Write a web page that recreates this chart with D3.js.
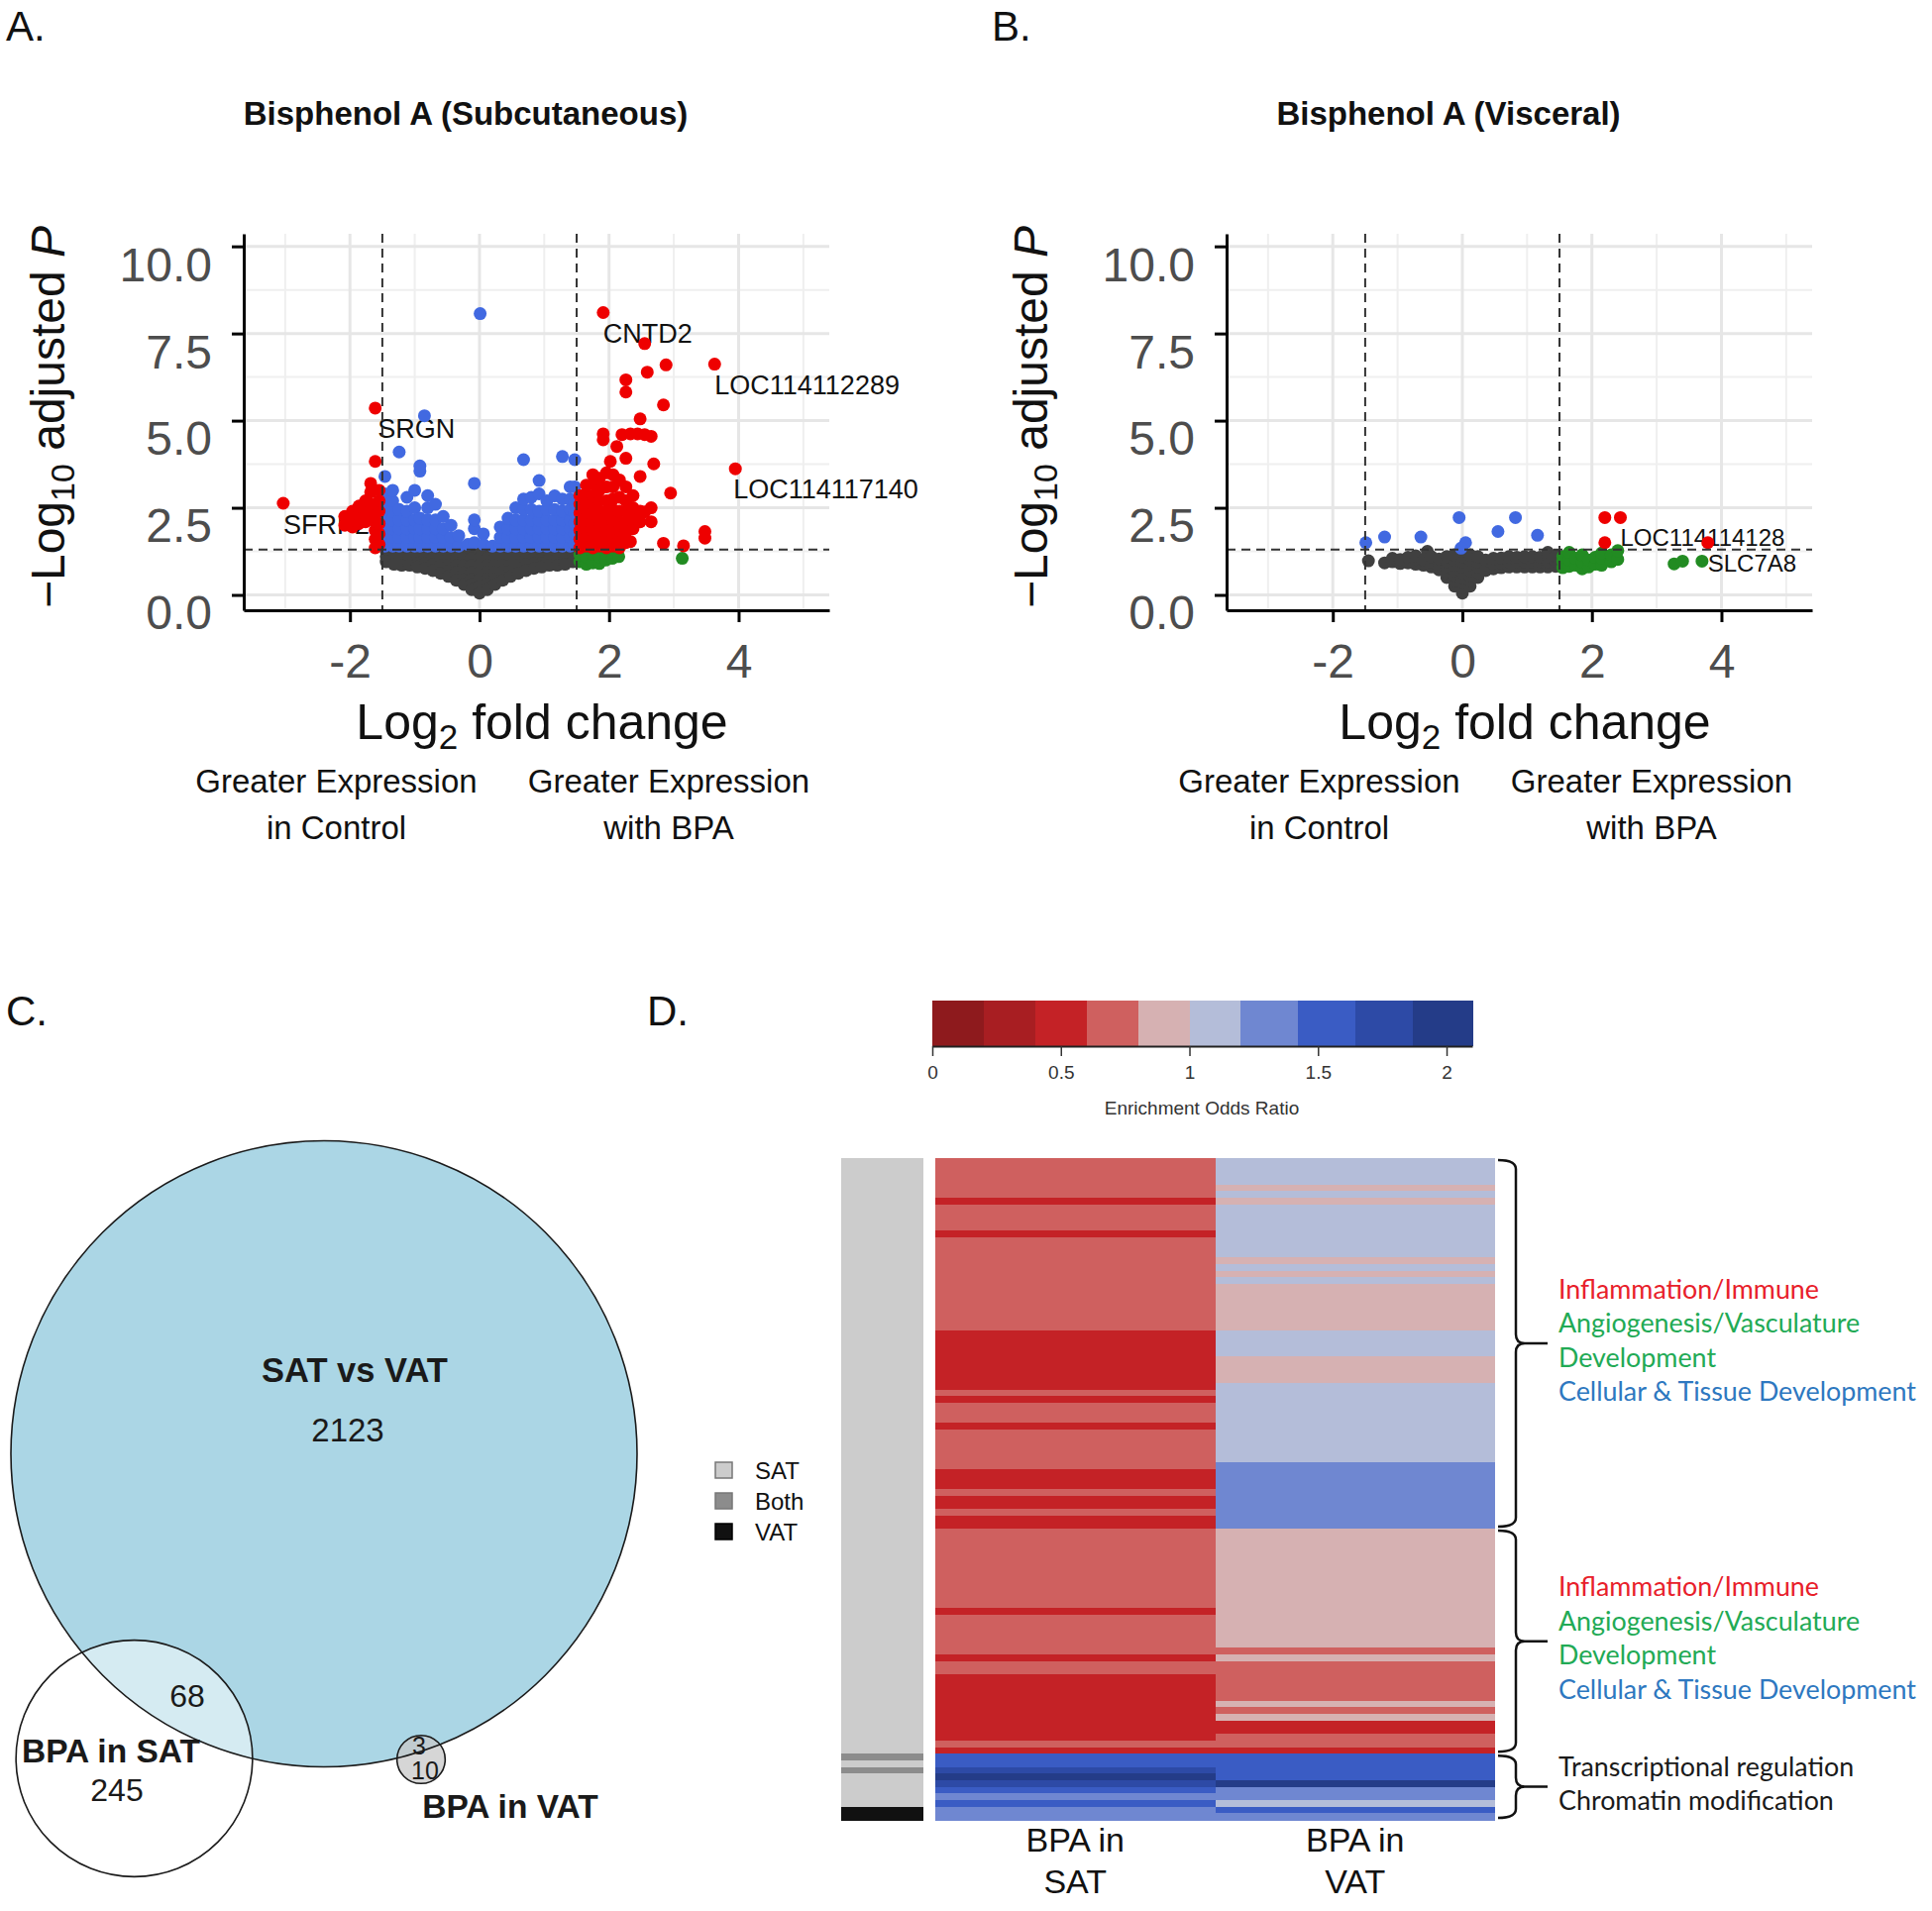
<!DOCTYPE html>
<html>
<head>
<meta charset="utf-8">
<script src="https://cdn.jsdelivr.net/npm/d3@7"></script>
<style>
  body { margin: 0; background: #fff; }
  svg { display: block; }
</style>
</head>
<body>
<div id="fig"></div>
<script>
// ---------- volcano data: [log2 fold change, [-log10 padj, ...]] ----------
const greyA = [
  [-1.44,[1.25,1.1,0.95]], [-1.32,[1.25,1.05,0.88]], [-1.2,[1.25,1.05,0.85]],
  [-1.08,[1.25,1.05,0.85]], [-0.96,[1.25,1.05,0.9,0.8]], [-0.84,[1.25,1.05,0.9,0.76]],
  [-0.72,[1.25,1.05,0.88,0.7]], [-0.6,[1.25,1.05,0.85,0.62]], [-0.48,[1.25,1.05,0.85,0.68,0.53]],
  [-0.36,[1.25,1.05,0.85,0.65,0.42]], [-0.24,[1.25,1.05,0.85,0.65,0.45,0.3]],
  [-0.12,[1.25,1.05,0.85,0.65,0.45,0.3,0.15]], [0,[1.25,1.05,0.85,0.65,0.45,0.25,0.05]],
  [0.12,[1.25,1.05,0.85,0.65,0.45,0.3,0.15]], [0.24,[1.25,1.05,0.85,0.65,0.45,0.3]],
  [0.36,[1.25,1.05,0.85,0.65,0.42]], [0.48,[1.25,1.05,0.85,0.68,0.53]],
  [0.6,[1.25,1.05,0.85,0.62]], [0.72,[1.25,1.05,0.88,0.7]], [0.84,[1.25,1.05,0.9,0.76]],
  [0.96,[1.25,1.05,0.9,0.8]], [1.08,[1.25,1.05,0.85]], [1.2,[1.25,1.05,0.85]],
  [1.32,[1.25,1.05,0.88]], [1.44,[1.25,1.1,0.95]]
];
const greenA = [
  [1.55,[0.95,1.15]], [1.65,[0.88,1.08]], [1.75,[0.92,1.18]], [1.85,[0.9,1.1]],
  [1.95,[1.0,1.2]], [2.05,[1.05,1.22]], [2.15,[1.1]], [3.13,[1.05]]
];
const blueA = [
  [-1.46,[1.4,1.65,1.9,2.15,2.4,2.65,2.9,3.4]], [-1.34,[1.4,1.65,1.9,2.15,2.4,2.7,3.0]],
  [-1.24,[1.4,1.65,1.9,2.15,2.45,4.1]], [-1.12,[1.4,1.65,1.9,2.15,2.4,2.8]],
  [-1.0,[1.4,1.65,1.9,2.15,2.5,3.0]], [-0.92,[1.4,1.65,1.9,2.2,3.55,3.7]], [-0.85,[5.14]],
  [-0.8,[1.4,1.65,1.9,2.15,2.5,2.85]], [-0.68,[1.4,1.65,1.9,2.15,2.6]],
  [-0.56,[1.4,1.65,1.9,2.25]], [-0.44,[1.4,1.65,2.0]], [-0.32,[1.4,1.7]], [-0.18,[1.45]],
  [-0.08,[1.5,1.9,2.15,3.2]], [0.01,[8.07]], [0.06,[1.45,1.75]], [0.2,[1.4]],
  [0.32,[1.4,1.65,1.95]], [0.44,[1.4,1.65,1.9,2.2]], [0.56,[1.4,1.65,1.9,2.15,2.5]],
  [0.68,[1.4,1.65,1.9,2.15,2.45,2.75,3.88]], [0.8,[1.4,1.65,1.9,2.15,2.45,2.8]],
  [0.92,[1.4,1.65,1.9,2.15,2.4,2.9,3.28]], [1.04,[1.4,1.65,1.9,2.15,2.45,2.7]],
  [1.16,[1.4,1.65,1.9,2.15,2.45,2.84]], [1.28,[1.4,1.65,1.9,2.15,2.4,2.75,3.97]],
  [1.4,[1.4,1.65,1.9,2.15,2.45,2.75,3.1]], [1.47,[1.45,1.75,2.05,2.35,2.65,3.1,3.88]]
];
const redA = [
  [-3.03,[2.63]], [-2.08,[2.0,2.25]], [-1.96,[1.95,2.15,2.4]], [-1.86,[2.05,2.3,2.55]],
  [-1.76,[2.1,2.45,2.7]], [-1.68,[2.3,2.6,2.95,3.2]], [-1.61,[1.35,1.6,1.85,2.1,3.83,5.36]],
  [-1.55,[1.45,1.75,2.05,2.4,2.7,3.0]],
  [1.55,[1.35,1.6,1.85,2.1,2.35,2.6,2.85]], [1.65,[1.4,1.65,1.9,2.15,2.4,2.65,2.9,3.15]],
  [1.75,[1.35,1.6,1.85,2.1,2.35,2.6,2.85,3.2,3.45]], [1.85,[1.4,1.65,1.9,2.15,2.4,2.7,3.0,3.35]],
  [1.91,[4.45,4.62,8.1]], [1.96,[1.35,1.6,1.85,2.1,2.4,2.7,3.1,3.5]], [2.02,[3.83]],
  [2.06,[1.4,1.65,1.9,2.15,2.45,2.75,3.1,3.45]], [2.12,[4.26]],
  [2.16,[1.35,1.6,1.85,2.1,2.4,2.8,3.3]], [2.2,[4.6]],
  [2.26,[1.5,1.8,2.1,2.4,2.7,3.1,3.92,5.82,6.17]], [2.33,[1.53,4.62]],
  [2.37,[1.9,2.2,2.5,2.85]], [2.44,[4.62]], [2.48,[2.1,2.4,3.4,5.05]],
  [2.55,[2.38,4.6,7.21]], [2.59,[6.39]], [2.65,[2.1,2.5,4.55]], [2.69,[3.76]],
  [2.84,[1.48,5.45]], [2.88,[6.6]], [2.95,[2.92]], [3.15,[1.41]], [3.48,[1.63,1.82]],
  [3.63,[6.62]], [3.95,[3.62]]
];
const labelsA = [
  {name: "CNTD2", fc: 1.91, p: 7.49},
  {name: "LOC114112289", fc: 3.63, p: 6.0},
  {name: "LOC114117140", fc: 3.92, p: 3.03},
  {name: "SRGN", fc: -1.57, p: 4.77},
  {name: "SFRP2", fc: -3.03, p: 2.01}
];

const greyB = [
  [-1.45,[0.98]], [-1.2,[0.92]], [-1.08,[0.95,1.05]], [-0.96,[0.9,1.02]], [-0.84,[0.92,1.08]],
  [-0.72,[0.88,1.02,1.12]], [-0.6,[0.85,1.0]], [-0.54,[1.25]], [-0.48,[0.8,0.95,1.1]],
  [-0.36,[0.72,0.88,1.03]], [-0.24,[0.5,0.65,0.8,0.95,1.1]],
  [-0.12,[0.25,0.4,0.55,0.7,0.85,1.0,1.15]], [0,[0.05,0.2,0.35,0.5,0.65,0.8,0.95,1.1,1.25]],
  [0.12,[0.25,0.4,0.55,0.7,0.85,1.0,1.15]], [0.24,[0.5,0.65,0.8,0.95,1.1]],
  [0.36,[0.7,0.85,1.0]], [0.48,[0.75,0.9,1.05]], [0.6,[0.78,0.92,1.06]],
  [0.72,[0.8,0.95,1.1]], [0.84,[0.8,0.95,1.08]], [0.96,[0.8,0.95,1.1]],
  [1.08,[0.8,0.95,1.1]], [1.2,[0.8,0.95,1.08]], [1.32,[0.8,0.95,1.1,1.22]], [1.44,[0.82,0.97,1.12]]
];
const greenB = [
  [1.55,[0.78,0.95,1.1]], [1.65,[0.82,1.0,1.22]], [1.75,[0.85,1.05]], [1.85,[0.75,0.95,1.15]],
  [1.95,[0.8,1.0]], [2.05,[0.88,1.08]], [2.15,[0.85,1.05,1.2]], [2.3,[0.95,1.15]],
  [2.4,[1.02,1.27]], [3.27,[0.89]], [3.4,[0.97]], [3.7,[0.97]]
];
const blueB = [
  [-1.49,[1.5]], [-1.2,[1.66]], [-0.64,[1.66]], [-0.05,[2.22]], [0.05,[1.5]], [-0.02,[1.34]],
  [0.55,[1.82]], [0.82,[2.22]], [1.16,[1.71]]
];
const redB = [[2.2,[2.22,1.5]], [2.44,[2.22]], [3.79,[1.5]]];
const labelsB = [
  {name: "LOC114114128", fc: 2.44, p: 1.66},
  {name: "SLC7A8", fc: 3.79, p: 0.9}
];

const xMajor = [-2, 0, 2, 4], xMinor = [-3, -1, 1, 3, 5];
const yMajor = [0, 2.5, 5, 7.5, 10], yMinor = [1.25, 3.75, 6.25, 8.75];
const fcCut = 1.5, pCut = 1.3;

// ---------- venn data ----------
const vennNames = ["SAT vs VAT", "BPA in SAT", "BPA in VAT"];
const vennTotals = [2194, 313, 13];
const vennUnique = [2123, 245, 10];
const vennShared = [68, 3];

// ---------- heatmap data ----------
const orBreaks = [0, 0.2, 0.4, 0.6, 0.8, 1.0, 1.2, 1.42, 1.645, 1.87, 2.1];
const orTicks = [0, 0.5, 1, 1.5, 2];
const orColors = ["#8E1A1D","#A81E22","#C42226","#CF605F","#D6B1B2","#B4BDD9","#6F87D1","#3A5CC4","#2D4AA6","#243C88"];
const heatCols = ["BPA in SAT", "BPA in VAT"];
const satOR = [
  0.7,0.7,0.7,0.7,0.7,0.7, 0.5, 0.7,0.7,0.7,0.7, 0.5,
  0.7,0.7,0.7,0.7,0.7,0.7,0.7,0.7,0.7,0.7,0.7,0.7,0.7,0.7,
  0.5,0.5,0.5,0.5,0.5,0.5,0.5,0.5,0.5,
  0.7, 0.5, 0.7,0.7,0.7, 0.5, 0.7,0.7,0.7,0.7,0.7,0.7, 0.5,0.5,0.5, 0.7, 0.5,0.5, 0.7, 0.5,0.5,
  0.7,0.7,0.7,0.7,0.7,0.7,0.7,0.7,0.7,0.7,0.7,0.7, 0.5, 0.7,0.7,0.7,0.7,0.7,0.7, 0.5, 0.7,0.7,
  0.5,0.5,0.5,0.5,0.5,0.5,0.5,0.5,0.5,0.5, 0.7, 0.5,
  1.55,1.55,1.75,2.0,1.75,1.55,1.3,1.55,1.3,1.3
];
const vatOR = [
  1.1,1.1,1.1,1.1, 0.9, 1.1, 0.9, 1.1,1.1,1.1,1.1,1.1,1.1,1.1,1.1, 0.9, 1.1, 0.9, 1.1,
  0.9,0.9,0.9,0.9,0.9,0.9,0.9, 1.1,1.1,1.1,1.1, 0.9,0.9,0.9,0.9,
  1.1,1.1,1.1,1.1,1.1,1.1,1.1,1.1,1.1,1.1,1.1,1.1,
  1.3,1.3,1.3,1.3,1.3,1.3,1.3,1.3,1.3,1.3,
  0.9,0.9,0.9,0.9,0.9,0.9,0.9,0.9,0.9,0.9,0.9,0.9,0.9,0.9,0.9,0.9,0.9,0.9,
  0.7, 0.9, 0.7,0.7,0.7,0.7,0.7,0.7, 0.9, 0.7, 0.9, 0.5,0.5, 0.7,0.7, 0.5,
  1.55,1.55,1.55,1.55, 2.0, 1.3,1.3, 1.1, 1.55, 1.3
];
const tissue = [
  "SAT","SAT","SAT","SAT","SAT","SAT","SAT","SAT","SAT","SAT","SAT","SAT","SAT","SAT","SAT",
  "SAT","SAT","SAT","SAT","SAT","SAT","SAT","SAT","SAT","SAT","SAT","SAT","SAT","SAT","SAT",
  "SAT","SAT","SAT","SAT","SAT","SAT","SAT","SAT","SAT","SAT","SAT","SAT","SAT","SAT","SAT",
  "SAT","SAT","SAT","SAT","SAT","SAT","SAT","SAT","SAT","SAT","SAT","SAT","SAT","SAT","SAT",
  "SAT","SAT","SAT","SAT","SAT","SAT","SAT","SAT","SAT","SAT","SAT","SAT","SAT","SAT","SAT",
  "SAT","SAT","SAT","SAT","SAT","SAT","SAT","SAT","SAT","SAT","SAT","SAT","SAT","SAT","SAT",
  "Both","SAT","Both","SAT","SAT","SAT","SAT","SAT","VAT","VAT"
];
const tissueNames = ["SAT", "Both", "VAT"];
const tissueColors = ["#CCCCCC", "#8C8C8C", "#111111"];
const clusters = [
  {first: 0, last: 55, lines: [["Inflammation/Immune","#E8202A"],["Angiogenesis/Vasculature","#22AA55"],["Development","#22AA55"],["Cellular & Tissue Development","#2E78C0"]]},
  {first: 56, last: 89, lines: [["Inflammation/Immune","#E8202A"],["Angiogenesis/Vasculature","#22AA55"],["Development","#22AA55"],["Cellular & Tissue Development","#2E78C0"]]},
  {first: 90, last: 99, lines: [["Transcriptional regulation","#1A1A1A"],["Chromatin modification","#1A1A1A"]]}
];

const SANS = "'Liberation Sans', Arial, Helvetica, sans-serif";

const svg = d3.select("#fig").append("svg")
  .attr("width", 1950).attr("height", 1929)
  .attr("font-family", SANS);

// panel letters
[["A.", 6, 41], ["B.", 1001, 41], ["C.", 6, 1035], ["D.", 653, 1035]].forEach(([t, px, py]) => {
  svg.append("text").attr("x", px).attr("y", py).attr("font-size", 42).attr("fill", "#111").text(t);
});

function flatten(cols, color) {
  return cols.flatMap(([fc, ps]) => ps.map(p => ({fc, p, color})));
}

function volcano(dx, title, sets, labels, labelSize) {
  const x = d3.scaleLinear().domain([-3.64, 5.4]).range([246 + dx, 837 + dx]);
  const y = d3.scaleLinear().domain([-0.44, 10.36]).range([616, 236]);
  const g = svg.append("g");
  const [top, bottom] = [y.range()[1], y.range()[0]];
  const [left, right] = x.range();

  // grid
  g.append("g").selectAll("line").data(xMinor).join("line")
    .attr("x1", d => x(d)).attr("x2", d => x(d)).attr("y1", top).attr("y2", bottom)
    .attr("stroke", "#EFEFEF").attr("stroke-width", 2);
  g.append("g").selectAll("line").data(yMinor).join("line")
    .attr("x1", left).attr("x2", right).attr("y1", d => y(d)).attr("y2", d => y(d))
    .attr("stroke", "#EFEFEF").attr("stroke-width", 2);
  g.append("g").selectAll("line").data(xMajor).join("line")
    .attr("x1", d => x(d)).attr("x2", d => x(d)).attr("y1", top).attr("y2", bottom)
    .attr("stroke", "#E6E6E6").attr("stroke-width", 3);
  g.append("g").selectAll("line").data(yMajor).join("line")
    .attr("x1", left).attr("x2", right).attr("y1", d => y(d)).attr("y2", d => y(d))
    .attr("stroke", "#E6E6E6").attr("stroke-width", 3);

  // gene labels (points drawn over them)
  g.append("g").selectAll("text").data(labels).join("text")
    .attr("x", d => x(d.fc)).attr("y", d => y(d.p))
    .attr("dominant-baseline", "central").attr("font-size", labelSize).attr("fill", "#111")
    .text(d => d.name);

  // points
  g.append("g").selectAll("circle").data(sets).join("circle")
    .attr("cx", d => x(d.fc)).attr("cy", d => y(d.p)).attr("r", 6.5).attr("fill", d => d.color);

  // cutoffs
  g.append("g").selectAll("line").data([-fcCut, fcCut]).join("line")
    .attr("x1", d => x(d)).attr("x2", d => x(d)).attr("y1", top).attr("y2", bottom)
    .attr("stroke", "#333").attr("stroke-width", 2).attr("stroke-dasharray", "9,6");
  g.append("line").attr("x1", left).attr("x2", right).attr("y1", y(pCut)).attr("y2", y(pCut))
    .attr("stroke", "#333").attr("stroke-width", 2).attr("stroke-dasharray", "9,6");

  // axes
  const ya = g.append("g").attr("transform", `translate(${left},0)`)
    .call(d3.axisLeft(y).tickValues(yMajor).tickFormat(d3.format(".1f")).tickSize(12).tickPadding(20).tickSizeOuter(0));
  const xa = g.append("g").attr("transform", `translate(0,${bottom})`)
    .call(d3.axisBottom(x).tickValues(xMajor).tickFormat(d => String(d)).tickSize(12).tickPadding(22).tickSizeOuter(0));
  [ya, xa].forEach(a => {
    a.attr("font-family", SANS);
    a.select(".domain").attr("stroke", "#000").attr("stroke-width", 3);
    a.selectAll(".tick line").attr("stroke", "#000").attr("stroke-width", 3);
    a.selectAll(".tick text").attr("fill", "#4D4D4D").attr("font-size", 48);
  });
  ya.selectAll(".tick text").attr("transform", "translate(0,19)");

  // titles
  g.append("text").attr("x", 470 + dx).attr("y", 126).attr("text-anchor", "middle")
    .attr("font-weight", "bold").attr("font-size", 33).attr("fill", "#111").text(title);

  const xt = g.append("text").attr("x", 547 + dx).attr("y", 746).attr("text-anchor", "middle")
    .attr("font-size", 50).attr("fill", "#111");
  xt.append("tspan").text("Log");
  xt.append("tspan").attr("font-size", 35).attr("dy", 10).text("2");
  xt.append("tspan").attr("dy", -10).text(" fold change");

  const yt = g.append("text").attr("transform", `translate(${65 + dx},421) rotate(-90)`)
    .attr("text-anchor", "middle").attr("font-size", 48).attr("fill", "#111");
  yt.append("tspan").text("\u2212Log");
  yt.append("tspan").attr("font-size", 34).attr("dy", 10).text("10");
  yt.append("tspan").attr("dy", -10).text(" adjusted ");
  yt.append("tspan").attr("font-style", "italic").text("P");

  [[339.5, ["Greater Expression", "in Control"]], [675, ["Greater Expression", "with BPA"]]].forEach(([cx, lines]) => {
    lines.forEach((t, i) => {
      g.append("text").attr("x", cx + dx).attr("y", 800 + i * 47).attr("text-anchor", "middle")
        .attr("font-size", 33).attr("fill", "#111").text(t);
    });
  });
}

volcano(0, "Bisphenol A (Subcutaneous)",
  [...flatten(greyA, "#404040"), ...flatten(greenA, "#228B22"), ...flatten(blueA, "#4169E1"), ...flatten(redA, "#EE0000")],
  labelsA, 27);
volcano(992, "Bisphenol A (Visceral)",
  [...flatten(greyB, "#404040"), ...flatten(greenB, "#228B22"), ...flatten(blueB, "#4169E1"), ...flatten(redB, "#EE0000")],
  labelsB, 24);

// ---------- panel C: venn ----------
const rScale = d3.scaleSqrt().domain([0, d3.max(vennTotals)]).range([0, 316]);
const vennPos = [[327, 1467.5], [135.5, 1775], [425, 1776]];
const vennFill = [["#ABD6E5", 1], ["#FFFFFF", 0.5], ["#C8C8C8", 0.75]];
const vg = svg.append("g");
vg.selectAll("circle.fill").data(vennTotals).join("circle").attr("class", "fill")
  .attr("cx", (d, i) => vennPos[i][0]).attr("cy", (d, i) => vennPos[i][1]).attr("r", d => rScale(d))
  .attr("fill", (d, i) => vennFill[i][0]).attr("fill-opacity", (d, i) => vennFill[i][1]);
vg.selectAll("circle.edge").data(vennTotals).join("circle").attr("class", "edge")
  .attr("cx", (d, i) => vennPos[i][0]).attr("cy", (d, i) => vennPos[i][1]).attr("r", d => rScale(d))
  .attr("fill", "none").attr("stroke", "#1A1A1A").attr("stroke-width", 1.6);

const vennText = [
  [vennNames[0], 358, 1383, 34.5, "bold"], [vennUnique[0], 351, 1443, 33, "normal"],
  [vennShared[0], 189, 1712, 32, "normal"],
  [vennNames[1], 112, 1767, 33.5, "bold"], [vennUnique[1], 118, 1807, 32, "normal"],
  [vennShared[1], 423, 1762, 25, "normal"], [vennUnique[2], 429, 1787, 25, "normal"],
  [vennNames[2], 515, 1823, 33.5, "bold"]
];
vg.selectAll("text").data(vennText).join("text")
  .attr("x", d => d[1]).attr("y", d => d[2]).attr("font-size", d => d[3]).attr("font-weight", d => d[4])
  .attr("text-anchor", "middle").attr("dominant-baseline", "central").attr("fill", "#1A1A1A")
  .text(d => d[0]);

// ---------- panel D: heatmap ----------
const color = d3.scaleThreshold().domain(orBreaks.slice(1, -1)).range(orColors);
const rows = d3.scaleBand().domain(d3.range(satOR.length)).range([1169, 1837]);
const cols = d3.scaleBand().domain(heatCols).range([944, 1509]);
const hg = svg.append("g").attr("shape-rendering", "crispEdges");

const cells = [];
satOR.forEach((v, i) => cells.push({row: i, col: heatCols[0], v}));
vatOR.forEach((v, i) => cells.push({row: i, col: heatCols[1], v}));
hg.selectAll("rect.cell").data(cells).join("rect").attr("class", "cell")
  .attr("x", d => cols(d.col)).attr("y", d => rows(d.row))
  .attr("width", cols.bandwidth()).attr("height", rows.bandwidth() + 0.5)
  .attr("fill", d => color(d.v));

const tColor = d3.scaleOrdinal().domain(tissueNames).range(tissueColors);
hg.selectAll("rect.ann").data(tissue).join("rect").attr("class", "ann")
  .attr("x", 849).attr("y", (d, i) => rows(i)).attr("width", 83).attr("height", rows.bandwidth() + 0.5)
  .attr("fill", d => tColor(d));

heatCols.forEach(c => {
  const [l1, l2] = [c.slice(0, 6), c.slice(7)];
  [l1, l2].forEach((t, i) => {
    svg.append("text").attr("x", cols(c) + cols.bandwidth() / 2).attr("y", 1869 + i * 42)
      .attr("text-anchor", "middle").attr("font-size", 34).attr("fill", "#111").text(t);
  });
});

// colour key
const keyX = d3.scaleLinear().domain([orBreaks[0], orBreaks[orBreaks.length - 1]]).range([941, 1486]);
const kg = svg.append("g");
kg.selectAll("rect").data(orColors).join("rect")
  .attr("x", (d, i) => keyX(orBreaks[i])).attr("y", 1010)
  .attr("width", (d, i) => keyX(orBreaks[i + 1]) - keyX(orBreaks[i]) + 0.5).attr("height", 46)
  .attr("fill", d => d).attr("shape-rendering", "crispEdges");
const ka = kg.append("g").attr("transform", "translate(0,1056)")
  .call(d3.axisBottom(keyX).tickValues(orTicks).tickFormat(d3.format("")).tickSize(10).tickPadding(10).tickSizeOuter(0));
ka.attr("font-family", SANS);
ka.select(".domain").attr("stroke", "#222").attr("stroke-width", 2);
ka.selectAll(".tick line").attr("stroke", "#333").attr("stroke-width", 1.5);
ka.selectAll(".tick text").attr("font-size", 19).attr("fill", "#333");
kg.append("text").attr("x", 1213).attr("y", 1118).attr("text-anchor", "middle")
  .attr("dominant-baseline", "central").attr("font-size", 19).attr("fill", "#333")
  .text("Enrichment Odds Ratio");

// tissue legend
const lg = svg.append("g");
tissueNames.forEach((t, i) => {
  const cy = 1484 + i * 31;
  lg.append("rect").attr("x", 722).attr("y", cy - 8).attr("width", 17).attr("height", 16)
    .attr("fill", tissueColors[i]).attr("stroke", i === 2 ? "#000" : "#777").attr("stroke-width", 1.5);
  lg.append("text").attr("x", 762).attr("y", cy).attr("dominant-baseline", "central")
    .attr("font-size", 24).attr("fill", "#111").text(t);
});

// braces + cluster annotations
const bg = svg.append("g");
clusters.forEach(c => {
  const y0 = rows(c.first) + 2, y1 = rows(c.last) + rows.bandwidth() - 2;
  const ym = (y0 + y1) / 2, x0 = 1512, xv = 1530, tip = 1562, r = 9;
  const path = `M${x0},${y0} Q${xv},${y0} ${xv},${y0 + r} L${xv},${ym - r} Q${xv},${ym} ${xv + r},${ym} L${tip},${ym}`
    + ` M${xv + r},${ym} Q${xv},${ym} ${xv},${ym + r} L${xv},${y1 - r} Q${xv},${y1} ${x0},${y1}`;
  bg.append("path").attr("d", path).attr("fill", "none").attr("stroke", "#111").attr("stroke-width", 2.5);
  const n = c.lines.length, lh = 34.6;
  c.lines.forEach(([t, col], i) => {
    bg.append("text").attr("class", "ann-text").attr("x", 1573).attr("y", ym - 4 + (i - (n - 1) / 2) * lh)
      .attr("dominant-baseline", "central").attr("font-family", "Lato, 'Open Sans', sans-serif")
      .attr("font-size", 24).attr("fill", col).text(t);
  });
});
// fit annotation text so the longest line spans ~361px, like the reference
const longest = d3.max(bg.selectAll("text.ann-text").nodes(), n => n.getComputedTextLength());
if (longest > 0) bg.selectAll("text.ann-text").attr("font-size", 24 * 361 / longest);
</script>
</body>
</html>
